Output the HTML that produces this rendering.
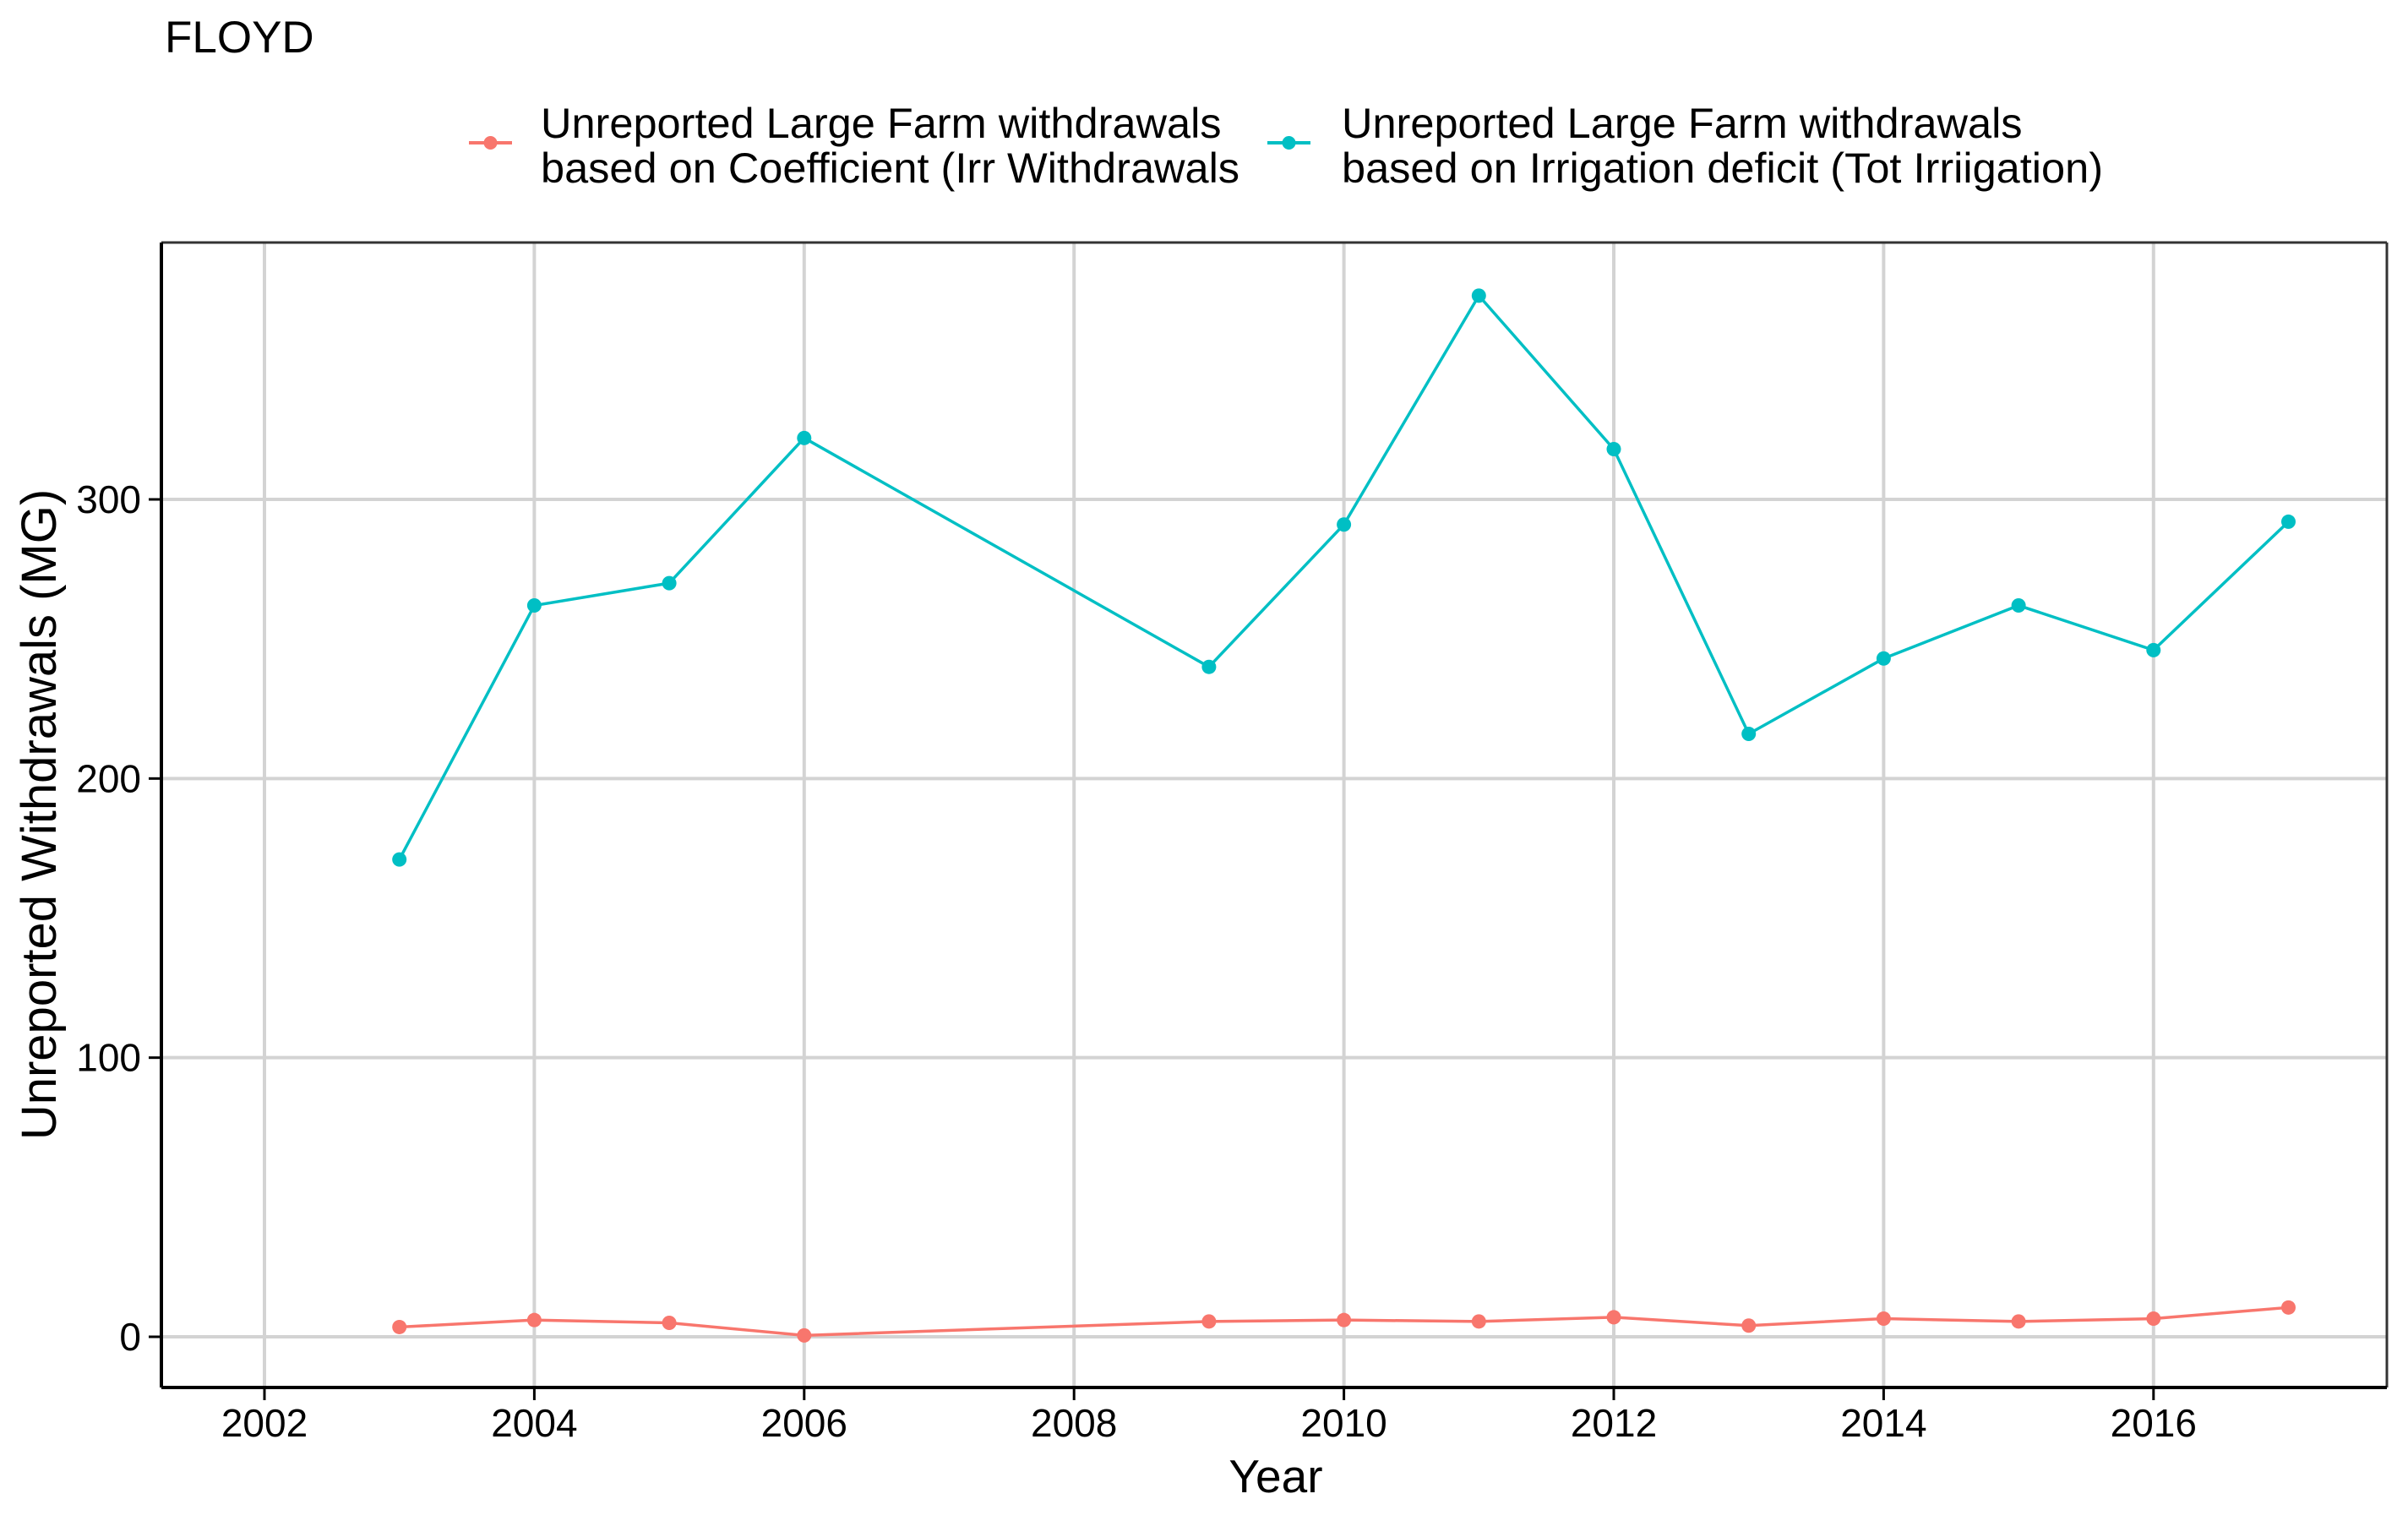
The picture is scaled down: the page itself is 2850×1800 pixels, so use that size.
<!DOCTYPE html>
<html><head><meta charset="utf-8"><style>
html,body{margin:0;padding:0;background:#fff}
svg{display:block;font-family:"Liberation Sans",Arial,sans-serif}
</style></head><body>
<svg id="chart" width="2850" height="1800" viewBox="0 0 2850 1800" xmlns="http://www.w3.org/2000/svg">
<text x="195" y="62" font-size="53" fill="#000">FLOYD</text>
<g>
 <g>
  <line x1="555" y1="169" x2="606" y2="169" stroke="#F8766D" stroke-width="4"/>
  <circle cx="580.5" cy="169" r="8" fill="#F8766D"/>
  <text x="640" y="163" font-size="50.5">Unreported Large Farm withdrawals</text>
  <text x="640" y="216" font-size="50.5">based on Coefficient (Irr Withdrawals</text>
 </g>
 <g>
  <line x1="1500" y1="169" x2="1551" y2="169" stroke="#00BFC4" stroke-width="4"/>
  <circle cx="1525.5" cy="169" r="8" fill="#00BFC4"/>
  <text x="1588" y="163" font-size="50.5">Unreported Large Farm withdrawals</text>
  <text x="1588" y="216" font-size="50.5">based on Irrigation deficit (Tot Irriigation)</text>
 </g>
</g>
<g id="grid"></g>
<g id="series"></g>
<g id="axes"></g>
<text x="1510" y="1766" font-size="55" text-anchor="middle">Year</text>
<text transform="translate(66,964) rotate(-90)" font-size="58" text-anchor="middle">Unreported Withdrawals (MG)</text>
</svg>
<script>
const years = [2003,2004,2005,2006,2009,2010,2011,2012,2013,2014,2015,2016,2017];
const coefValues = [3.5,6,5,0.5,5.5,6,5.5,7,4,6.5,5.5,6.5,10.5];
const deficitValues = [171,262,270,322,240,291,373,318,216,243,262,246,292];
const xTicks = [2002,2004,2006,2008,2010,2012,2014,2016];
const yTicks = [0,100,200,300];

const PL=191,PR=2825,PT=287,PB=1642;
function xs(v){return 313+(v-2002)*159.7;}
function ys(v){return 1582-v*(1582-591)/300;}
const NS="http://www.w3.org/2000/svg";
function mk(tag,attrs,parent){const e=document.createElementNS(NS,tag);for(const k in attrs)e.setAttribute(k,attrs[k]);parent.appendChild(e);return e;}
const gridG=document.getElementById('grid'),axesG=document.getElementById('axes'),seriesG=document.getElementById('series');
yTicks.forEach(t=>{
 const g=mk('line',{x1:PL,x2:PR,y1:ys(t),y2:ys(t),stroke:'#D3D3D3','stroke-width':4},gridG);
 
 
 const tk=mk('line',{x1:176,x2:PL,y1:ys(t),y2:ys(t),stroke:'#000','stroke-width':3},axesG);
 
 
 const lb=mk('text',{x:167,y:ys(t)+16,'font-size':46,'text-anchor':'end'},axesG);
 lb.textContent=t;
 
 
});
xTicks.forEach(t=>{
 const g=mk('line',{x1:xs(t),x2:xs(t),y1:PT,y2:PB,stroke:'#D3D3D3','stroke-width':4},gridG);
 
 
 const tk=mk('line',{x1:xs(t),x2:xs(t),y1:PB,y2:PB+15,stroke:'#000','stroke-width':3},axesG);
 
 
 const lb=mk('text',{x:xs(t),y:1700,'font-size':46,'text-anchor':'middle'},axesG);
 lb.textContent=t;
 
 
});
const bTop=mk('line',{x1:PL,x2:PR,y1:PT,y2:PT,stroke:'#333','stroke-width':3},axesG);


const bRight=mk('line',{x1:PR,x2:PR,y1:PT,y2:PB,stroke:'#333','stroke-width':3},axesG);


const xAxisLine=mk('line',{x1:PL,x2:PR,y1:PB,y2:PB,stroke:'#000','stroke-width':4},axesG);


const yAxisLine=mk('line',{x1:PL,x2:PL,y1:PT,y2:PB,stroke:'#000','stroke-width':4},axesG);


function draw(vals,color,name){
 const p=mk('polyline',{points:years.map((y,i)=>xs(y)+','+ys(vals[i])).join(' '),fill:'none',stroke:color,'stroke-width':3.5,'stroke-linejoin':'round'},seriesG);
 
 
 years.forEach((y,i)=>{
  const c=mk('circle',{cx:xs(y),cy:ys(vals[i]),r:8.5,fill:color},seriesG);
  
  
 });
}
draw(coefValues,'#F8766D','coefficient');
draw(deficitValues,'#00BFC4','irrigation-deficit');
</script>
</body></html>
